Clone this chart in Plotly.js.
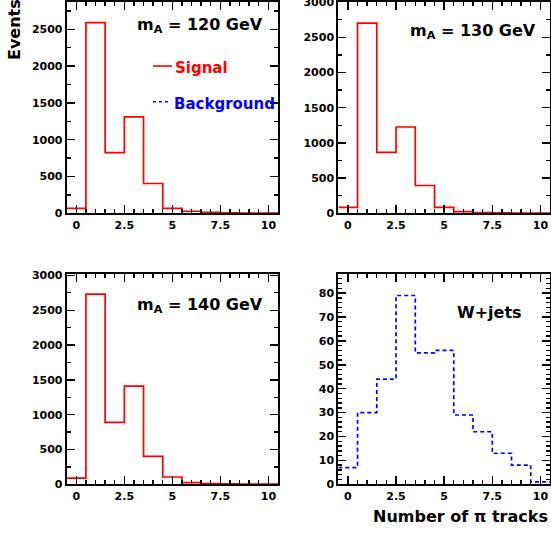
<!DOCTYPE html>
<html>
<head>
<meta charset="utf-8">
<script src="https://cdn.plot.ly/plotly-3.0.1.min.js"></script>
<style>
  html, body { margin: 0; padding: 0; background: #ffffff; }
  #chart { width: 551px; height: 533px; }
</style>
</head>
<body>
<div id="chart"></div>
<script>
// Number of pi tracks per event: bin centres 0..10
const trackBins = [0, 1, 2, 3, 4, 5, 6, 7, 8, 9, 10];

// Signal histograms for three Higgs masses
const signal120 = [68, 2590, 823, 1310, 405, 68, 28, 12, 6, 3, 2];
const signal130 = [85, 2700, 865, 1225, 395, 85, 25, 10, 5, 3, 2];
const signal140 = [90, 2730, 890, 1410, 400, 105, 25, 10, 5, 3, 2];

// W+jets background
const wjets = [7, 30, 44, 79, 55, 56, 29, 22, 13, 8, 1];

// Axis tick labels
const xTickVals = [0, 2.5, 5, 7.5, 10];
const xTickText = ['0', '2.5', '5', '7.5', '10'];

// Panel labels
const panelLabels = ['m<sub>A</sub> = 120 GeV', 'm<sub>A</sub> = 130 GeV', 'm<sub>A</sub> = 140 GeV', 'W+jets'];
const legendNames = ['Signal', 'Background'];
const yTitle = 'Events';
const xTitle = 'Number of \u03c0 tracks';

const FONT = 'DejaVu Sans';
const RED = '#ff0000';
const BLUE = '#0000ff';

// Turn bin centres + contents into a step outline (ROOT-style histogram)
function stepTrace(values, color, dash, xa, ya) {
  const edges = trackBins.map(c => c - 0.5).concat([trackBins[trackBins.length - 1] + 0.5]);
  const ys = values.concat([values[values.length - 1]]);
  return {
    type: 'scatter', mode: 'lines', x: edges, y: ys,
    line: { shape: 'hv', color: color, width: 1.7, dash: dash },
    xaxis: xa, yaxis: ya, showlegend: false, hoverinfo: 'skip'
  };
}

const data = [
  stepTrace(signal120, RED, 'solid', 'x', 'y'),
  stepTrace(signal130, RED, 'solid', 'x2', 'y2'),
  stepTrace(signal140, RED, 'solid', 'x3', 'y3'),
  stepTrace(wjets, BLUE, '4px,3px', 'x4', 'y4')
];

const W = 551, H = 533;
const colL = [66.7 / W, 278 / W];
const colR = [338.3 / W, 550 / W];
const rowT = [1 - 213.3 / H, 1 - 2 / H];
const rowB = [1 - 484.3 / H, 1 - 274 / H];

const tickFont = { family: FONT, size: 11, color: '#000000', weight: 'bold' };

function baseAxis() {
  return {
    showline: true, linecolor: '#000000', linewidth: 2, mirror: 'allticks',
    ticks: 'inside', ticklen: 8, tickwidth: 1.4, tickcolor: '#000000',
    showgrid: false, zeroline: false, tickfont: tickFont, fixedrange: true,
    ticklabeloverflow: 'allow'
  };
}

function xAxis(domain, anchor) {
  return Object.assign(baseAxis(), {
    domain: domain, anchor: anchor, range: [-0.5, 10.5],
    tickmode: 'array', tickvals: xTickVals, ticktext: xTickText,
    minor: { tickmode: 'linear', tick0: 0, dtick: 0.5, ticks: 'inside', ticklen: 4, tickwidth: 1.4, tickcolor: '#000000', showgrid: false }
  });
}

function yAxis(domain, anchor, range, dtick, minorDtick) {
  return Object.assign(baseAxis(), {
    domain: domain, anchor: anchor, range: range,
    tickmode: 'linear', tick0: 0, dtick: dtick,
    minor: { tickmode: 'linear', tick0: 0, dtick: minorDtick, ticks: 'inside', ticklen: 4, tickwidth: 1.4, tickcolor: '#000000', showgrid: false }
  });
}

const labelFont = { family: FONT, size: 16, color: '#000000', weight: 'bold' };

const annotations = [
  { xref: 'x domain', yref: 'y domain', x: 0.9385, y: 0.89, xanchor: 'right', yanchor: 'middle', text: panelLabels[0], showarrow: false, font: labelFont },
  { xref: 'x2 domain', yref: 'y2 domain', x: 0.943, y: 0.86, xanchor: 'right', yanchor: 'middle', text: panelLabels[1], showarrow: false, font: labelFont },
  { xref: 'x3 domain', yref: 'y3 domain', x: 0.9385, y: 0.848, xanchor: 'right', yanchor: 'middle', text: panelLabels[2], showarrow: false, font: labelFont },
  { xref: 'x4 domain', yref: 'y4 domain', x: 0.877, y: 0.815, xanchor: 'right', yanchor: 'middle', text: panelLabels[3], showarrow: false, font: labelFont },
  // legend entries
  { xref: 'x domain', yref: 'y domain', x: 0.503, y: 0.69, xanchor: 'left', yanchor: 'middle', text: legendNames[0], showarrow: false,
    font: { family: FONT, size: 15, color: RED, weight: 'bold' } },
  { xref: 'x domain', yref: 'y domain', x: 0.498, y: 0.517, xanchor: 'left', yanchor: 'middle', text: legendNames[1], showarrow: false,
    font: { family: FONT, size: 15, color: BLUE, weight: 'bold' } },
  // axis titles
  { xref: 'paper', yref: 'paper', x: 14 / W, y: 1 - 30 / H, xanchor: 'center', yanchor: 'middle', textangle: -90, text: yTitle, showarrow: false,
    font: { family: FONT, size: 16, color: '#000000', weight: 'bold' } },
  { xref: 'paper', yref: 'paper', x: 550 / W, y: 1 - 516 / H, xanchor: 'right', yanchor: 'middle', text: xTitle, showarrow: false,
    font: { family: FONT, size: 16, color: '#000000', weight: 'bold' } }
];

const shapes = [
  { type: 'line', xref: 'x domain', yref: 'y domain', x0: 0.408, x1: 0.498, y0: 0.697, y1: 0.697, line: { color: RED, width: 1.6 } },
  { type: 'line', xref: 'x domain', yref: 'y domain', x0: 0.408, x1: 0.49, y0: 0.528, y1: 0.528, line: { color: BLUE, width: 1.6, dash: '3px,3px' } }
];

const layout = {
  width: W, height: H,
  margin: { l: 0, r: 0, t: 0, b: 0, pad: 0 },
  paper_bgcolor: '#ffffff', plot_bgcolor: '#ffffff',
  showlegend: false,
  xaxis: xAxis(colL, 'y'),
  yaxis: yAxis(rowT, 'x', [0, 2870], 500, 250),
  xaxis2: xAxis(colR, 'y2'),
  yaxis2: yAxis(rowT, 'x2', [0, 3000], 500, 250),
  xaxis3: xAxis(colL, 'y3'),
  yaxis3: yAxis(rowB, 'x3', [0, 3020], 500, 250),
  xaxis4: xAxis(colR, 'y4'),
  yaxis4: yAxis(rowB, 'x4', [0, 88], 10, 2),
  annotations: annotations,
  shapes: shapes
};

Plotly.newPlot('chart', data, layout, { staticPlot: true, displayModeBar: false });
</script>
</body>
</html>
